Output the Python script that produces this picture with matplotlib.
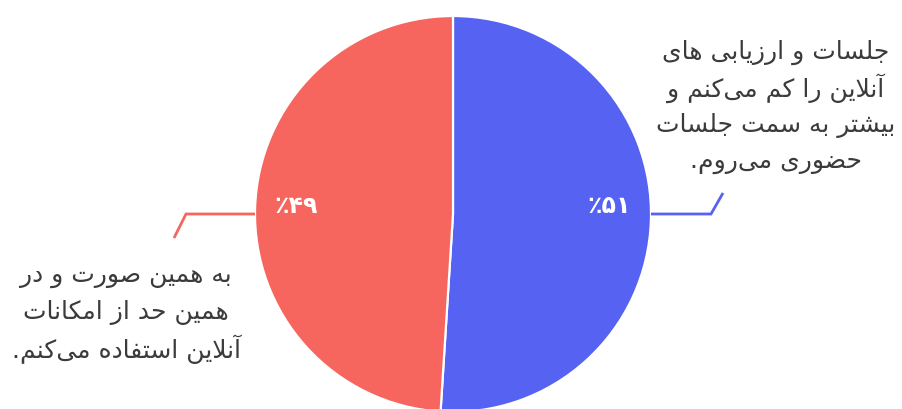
import matplotlib
matplotlib.use('Agg')
import matplotlib.pyplot as plt
import math

# ---------------- data ----------------
categories = [
    "جلسات و ارزیابی های آنلاین را کم می‌کنم و بیشتر به سمت جلسات حضوری می‌روم.",
    "به همین صورت و در همین حد از امکانات آنلاین استفاده می‌کنم.",
]
values = [51, 49]
pct_digits = ["۵۱", "۴۹"]
label_lines = [
    ["جلسات و ارزیابی های", "آنلاین را کم می‌کنم و", "بیشتر به سمت جلسات", "حضوری می‌روم."],
    ["به همین صورت و در", "همین حد از امکانات", "آنلاین استفاده می‌کنم."],
]
colors = ["#5562F2", "#F6665F"]

# ---------------- minimal Arabic/Persian shaping ----------------
FORMS = {
    '\u0627': ('\uFE8D', '\uFE8E', None, None),
    '\u0622': ('\uFE81', '\uFE82', None, None),
    '\u0628': ('\uFE8F', '\uFE90', '\uFE91', '\uFE92'),
    '\u062A': ('\uFE95', '\uFE96', '\uFE97', '\uFE98'),
    '\u062B': ('\uFE99', '\uFE9A', '\uFE9B', '\uFE9C'),
    '\u062C': ('\uFE9D', '\uFE9E', '\uFE9F', '\uFEA0'),
    '\u062D': ('\uFEA1', '\uFEA2', '\uFEA3', '\uFEA4'),
    '\u062E': ('\uFEA5', '\uFEA6', '\uFEA7', '\uFEA8'),
    '\u062F': ('\uFEA9', '\uFEAA', None, None),
    '\u0630': ('\uFEAB', '\uFEAC', None, None),
    '\u0631': ('\uFEAD', '\uFEAE', None, None),
    '\u0632': ('\uFEAF', '\uFEB0', None, None),
    '\u0698': ('\uFB8A', '\uFB8B', None, None),
    '\u0633': ('\uFEB1', '\uFEB2', '\uFEB3', '\uFEB4'),
    '\u0634': ('\uFEB5', '\uFEB6', '\uFEB7', '\uFEB8'),
    '\u0635': ('\uFEB9', '\uFEBA', '\uFEBB', '\uFEBC'),
    '\u0636': ('\uFEBD', '\uFEBE', '\uFEBF', '\uFEC0'),
    '\u0637': ('\uFEC1', '\uFEC2', '\uFEC3', '\uFEC4'),
    '\u0638': ('\uFEC5', '\uFEC6', '\uFEC7', '\uFEC8'),
    '\u0639': ('\uFEC9', '\uFECA', '\uFECB', '\uFECC'),
    '\u063A': ('\uFECD', '\uFECE', '\uFECF', '\uFED0'),
    '\u0641': ('\uFED1', '\uFED2', '\uFED3', '\uFED4'),
    '\u0642': ('\uFED5', '\uFED6', '\uFED7', '\uFED8'),
    '\u0644': ('\uFEDD', '\uFEDE', '\uFEDF', '\uFEE0'),
    '\u0645': ('\uFEE1', '\uFEE2', '\uFEE3', '\uFEE4'),
    '\u0646': ('\uFEE5', '\uFEE6', '\uFEE7', '\uFEE8'),
    '\u0647': ('\uFEE9', '\uFEEA', '\uFEEB', '\uFEEC'),
    '\u0648': ('\uFEED', '\uFEEE', None, None),
    '\u067E': ('\uFB56', '\uFB57', '\uFB58', '\uFB59'),
    '\u0686': ('\uFB7A', '\uFB7B', '\uFB7C', '\uFB7D'),
    '\u06A9': ('\uFB8E', '\uFB8F', '\uFB90', '\uFB91'),
    '\u06AF': ('\uFB92', '\uFB93', '\uFB94', '\uFB95'),
    '\u06CC': ('\uFBFC', '\uFBFD', '\uFBFE', '\uFBFF'),
}
LAMALEF = {'\u0627': ('\uFEFB', '\uFEFC'), '\u0622': ('\uFEF5', '\uFEF6')}


def joins_next(c):
    return c in FORMS and FORMS[c][2] is not None


def shape(s):
    chars = list(s)
    n = len(chars)
    res = []
    i = 0
    while i < n:
        c = chars[i]
        prev = chars[i - 1] if i > 0 else None
        cp = prev is not None and joins_next(prev) and c in FORMS
        if c == '\u0644' and i + 1 < n and chars[i + 1] in LAMALEF:
            lig = LAMALEF[chars[i + 1]]
            res.append(lig[1] if cp else lig[0])
            i += 2
            continue
        if c not in FORMS:
            if c != '\u200c':
                res.append(c)
            i += 1
            continue
        nxt = chars[i + 1] if i + 1 < n else None
        cn = joins_next(c) and nxt is not None and nxt in FORMS
        f = FORMS[c]
        if cp and cn:
            g = f[3]
        elif cp:
            g = f[1]
        elif cn:
            g = f[2]
        else:
            g = f[0]
        res.append(g)
        i += 1
    return ''.join(res)[::-1]


# ---------------- figure ----------------
W, H = 902, 409
fig = plt.figure(figsize=(W / 100, H / 100), dpi=100)
ax = fig.add_axes([0, 0, 1, 1])

cx, cy, r = 453, H - 214, 198
wedges, _ = ax.pie(values, colors=colors, startangle=90, counterclock=False,
                   center=(cx, cy), radius=r,
                   wedgeprops=dict(edgecolor='white', linewidth=1.6))
ax.set_xlim(0, W)
ax.set_ylim(0, H)
ax.set_aspect('equal')
ax.axis('off')

font = ['DejaVu Sans']
text_color = '#3b3b3b'

# percent labels
pct_pos = [(cx + 0.79 * r, H - 206), (cx - 0.79 * r, H - 206)]
for (px, py), d in zip(pct_pos, pct_digits):
    ax.text(px, py, '\u066A' + d, color='white', fontsize=17, fontweight='bold',
            ha='center', va='center', family=font)

# leader lines
# right (blue)
ax.plot([cx + r, cx + r + 60, cx + r + 72], [cy, cy, cy + 21], color=colors[0], lw=2,
        solid_capstyle='butt', solid_joinstyle='miter')
# left (red)
ax.plot([cx - r, cx - r - 69, cx - r - 81], [cy, cy, cy - 24], color=colors[1], lw=2,
        solid_capstyle='butt', solid_joinstyle='miter')

# category labels
blocks = [(776, H - 52), (126, H - 276)]
spacing = 36.5
for (bx, by), lines in zip(blocks, label_lines):
    for k, line in enumerate(lines):
        ax.text(bx, by - k * spacing, shape(line), color=text_color, fontsize=18,
                ha='center', va='center', family=font)

fig.savefig('out.png', dpi=100)
